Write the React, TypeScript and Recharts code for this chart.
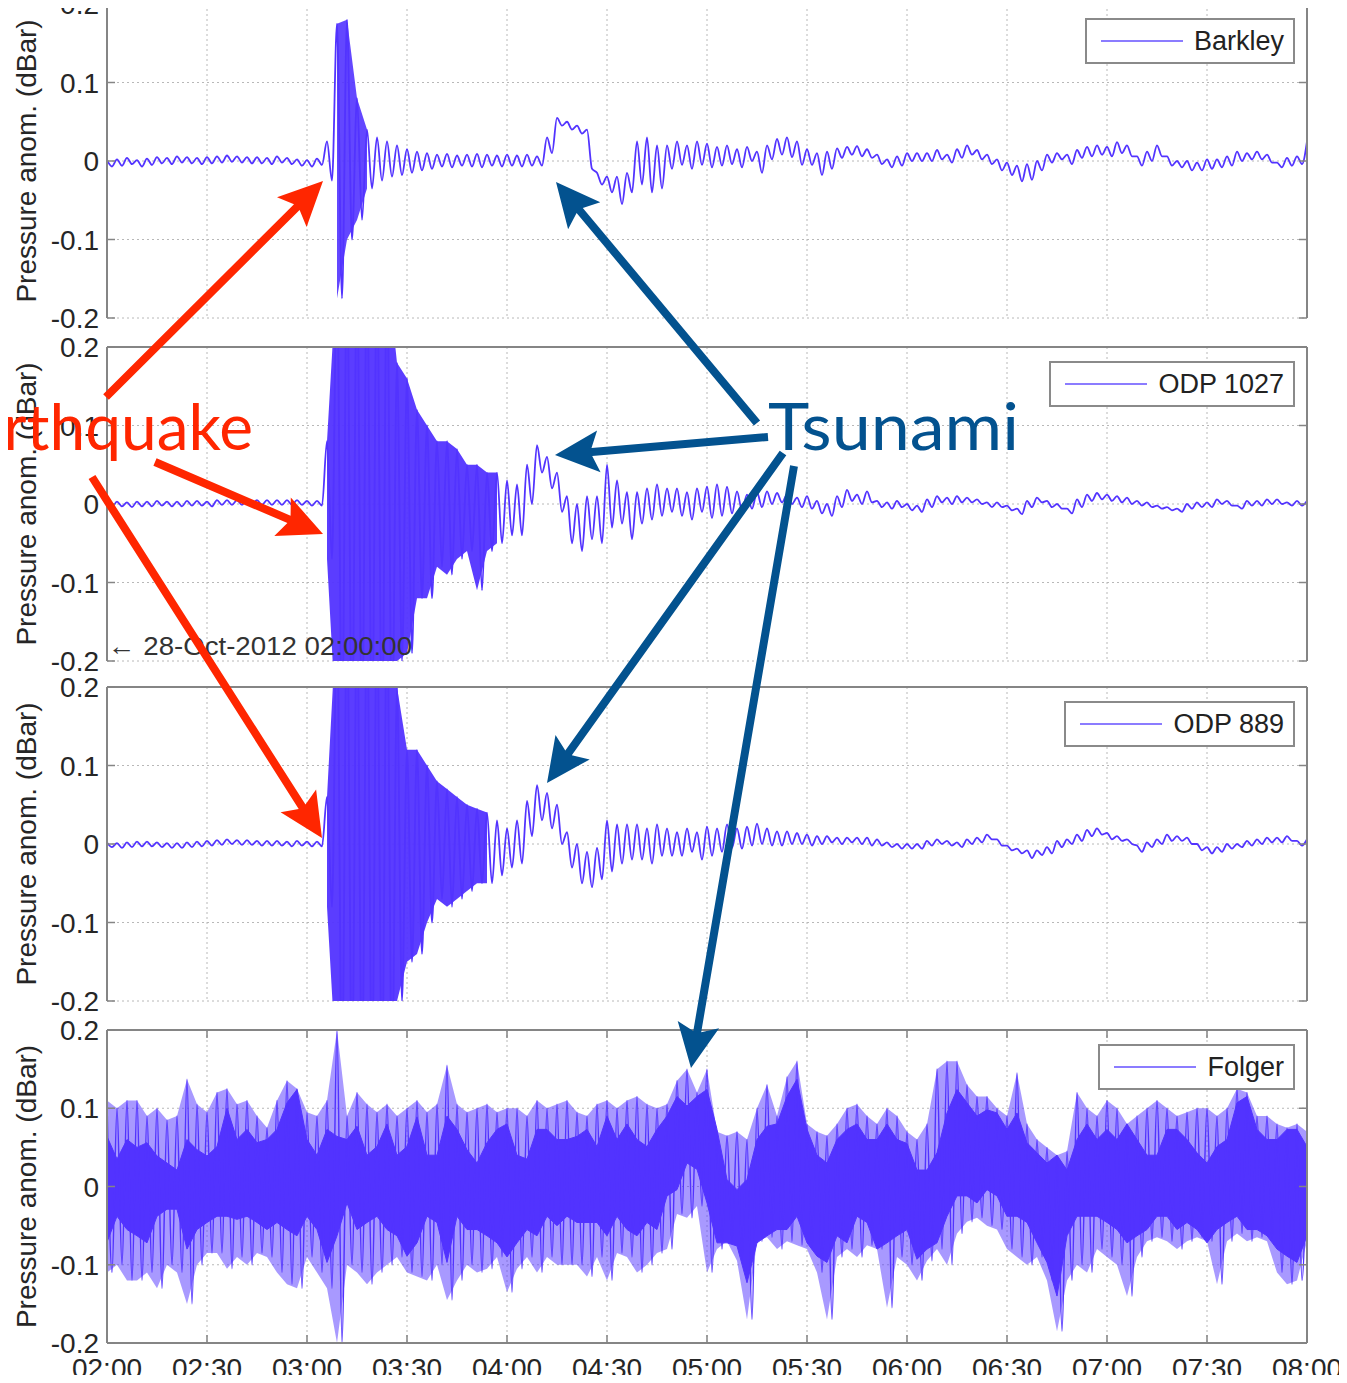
import React from 'react';
import {
  ComposedChart,
  Line,
  Area,
  XAxis,
  YAxis,
  CartesianGrid,
  ReferenceLine,
  Legend,
} from 'recharts';

// ---- axis ticks ----
const timeTicks = [0, 30, 60, 90, 120, 150, 180, 210, 240, 270, 300, 330, 360];
const timeLabels = ['02:00', '02:30', '03:00', '03:30', '04:00', '04:30', '05:00', '05:30', '06:00', '06:30', '07:00', '07:30', '08:00'];
const pressureTicks = [-0.2, -0.1, 0, 0.1, 0.2];
const pressureLabels = ['-0.2', '-0.1', '0', '0.1', '0.2'];
const stationNames = ['Barkley', 'ODP 1027', 'ODP 889', 'Folger'];

// one sample every 3 min from 02:00 to 08:00, local max / min, in 0.01 dBar
const SAMPLE_MIN = 3;

const barkleyHi = [
  0.1, 0.2, 0.4, 0.1, 0.3, 0.5, 0.4, 0.6, 0.5, 0.4, 0.5, 0.6, 0.7, 0.6, 0.5, 0.5, 0.4, 0.6, 0.4, 0.2, 0.1, 0.3,
  2.5, 17.5, 18, 8, 4, 3, 2.5, 2, 1.5, 1.2, 1.0,
  0.8, 0.9, 0.7, 0.8, 0.9, 0.8, 0.7, 0.8, 0.7, 0.8,
  0.6, 3, 5.5, 5, 4.5, 4, -1.5, -2, -2, -1.5, 2.5, 3, 2, 2, 2.5, 2, 2.5,
  2.2, 1.8, 2.0, 1.5, 1.8, 1.2, 2.0, 2.8, 3.0, 2.5,
  1.5, 1.0, 1.2, 1.6, 1.8, 1.9, 1.5, 0.8, 0.2, 0.6,
  1.0, 1.0, 1.0, 1.4, 0.8, 1.5, 2.0, 1.4, 0.8, 0.2,
  -0.2, -0.6, -0.4, 0.0, 0.8, 1.0, 0.8, 1.4, 1.8, 2.0,
  1.8, 2.4, 2.0, 0.6, 1.2, 2.0, 0.6, 0, 0, -0.2,
  0.2, 0.2, 0.6, 1.2, 1.0, 1.2, 0.8, -0.2, 0.4, 0.6,
  2.5,
];
const barkleyLo = [
  -0.7, -0.6, -0.4, -0.7, -0.5, -0.3, -0.4, -0.2, -0.3, -0.4, -0.3, -0.2, -0.1, -0.2, -0.3, -0.3, -0.4, -0.2, -0.4, -0.6, -0.7, -0.5,
  -2.5, -17.5, -10, -7.5, -3.5, -2.5, -2, -1.8, -1.5, -1.2, -1.0,
  -0.7, -0.8, -0.6, -0.7, -0.8, -0.6, -0.7, -0.6, -0.7, -0.6,
  -0.6, 1, 4.5, 4, 3.5, -1, -3, -4, -5.5, -4, -3, -4, -3.5, -1, -0.5, -1, -0.5,
  -0.8, -0.6, -0.4, -0.8, 0, -1.5, 0.2, 0.8, 0.5, -0.5,
  -0.5, -1.8, -1.0, 0.4, 0.8, 0.6, 0.4, -0.4, -0.8, -0.6,
  0, 0, 0, 0.2, -0.2, 0.4, 0.8, 0.2, -0.4, -1.2,
  -1.8, -2.6, -2.4, -1.2, -0.2, 0.2, -0.4, 0.4, 0.6, 0.8,
  0.6, 1.0, 0.6, -0.6, 0, 0.6, -0.6, -0.8, -1.2, -1.2,
  -1.0, -0.8, -0.6, 0, 0.2, 0.2, -0.2, -0.8, -0.6, -0.4,
  0.5,
];

const odp1027Hi = [
  0.2, 0.3, 0.2, 0.3, 0.3, 0.4, 0.3, 0.3, 0.4, 0.4, 0.3, 0.5, 0.5, 0.5, 0.6, 0.5, 0.5, 0.5, 0.5, 0.5, 0.4, 0.4,
  8, 30, 30, 30, 30, 30, 30, 18, 16, 12, 10, 8, 8, 7, 5, 5, 4, 4, 3, 2.5,
  5, 7.5, 6, 4, 1, 0, 1, 1, 5, 3, 1.5, 1.5, 2, 2.5, 2, 2, 1.5, 2,
  2.2, 2.5, 2.2, 1.6, 1.2, 1.5, 1.6, 1.4, 1.2, 0.8,
  1.0, 0.4, 0, 1.0, 1.8, 1.2, 1.6, 0.4, 0.2, 0.4,
  0, -0.2, 0.6, 1.0, 0.8, 1.0, 0.8, 0.6, 0.2, 0.2,
  -0.2, -0.6, 0.4, 0.8, 0.4, 0, -0.6, 0.6, 1.2, 1.4,
  1.2, 1.0, 0.8, 0.4, 0.2, -0.2, -0.4, -0.6, 0, 0.2,
  0.2, 0.6, 0.4, -0.2, 0.4, 0.4, 0.6, 0.6, 0.2, 0.4,
  0.4,
];
const odp1027Lo = [
  -0.4, -0.3, -0.4, -0.3, -0.3, -0.2, -0.3, -0.3, -0.2, -0.2, -0.3, -0.1, -0.1, -0.1, 0, -0.1, -0.1, -0.1, -0.1, -0.1, -0.2, -0.2,
  -7, -30, -30, -30, -30, -30, -30, -20, -19, -12, -12, -8, -9, -7, -6, -11, -6, -5, -4, -4,
  0, 4, 2, -1, -5, -6, -4.5, -5, -3, -2.5, -4.5, -2.5, -2, -1.5, -1, -1.5, -2, -1,
  -1.8, -1.5, -1.2, -0.8, -0.6, -0.4, 0, 0.2, 0, -0.4,
  -0.6, -1.2, -1.5, -0.4, 0.4, 0, 0.2, -0.4, -0.6, -0.4,
  -0.8, -1.0, -0.4, 0.2, 0, 0.2, 0.2, 0, -0.4, -0.4,
  -0.8, -1.3, -0.4, 0.2, -0.4, -0.6, -1.2, -0.4, 0.4, 0.6,
  0.4, 0.2, 0, -0.2, -0.4, -0.6, -0.8, -1.0, -0.6, -0.4,
  -0.4, 0, -0.2, -0.6, -0.2, -0.2, 0, 0, -0.2, -0.2,
  -0.2,
];

const odp889Hi = [
  0.2, 0.1, 0.2, 0.3, 0.3, 0.2, 0.1, 0.1, 0.2, 0.3, 0.4, 0.5, 0.6, 0.5, 0.5, 0.4, 0.4, 0.4, 0.3, 0.4, 0.3, 0.3,
  6, 30, 30, 30, 30, 30, 30, 20, 12, 12, 10, 8, 7, 6, 5, 4.5, 4, 3, 2, 3,
  5.5, 7.5, 6.5, 5, 1.5, 0, -1, -0.5, 3, 2.5, 2.5, 2.5, 2, 2.5, 2, 1.5, 2, 1.5,
  2.2, 2.0, 2.5, 2.0, 2.2, 2.6, 2.0, 1.6, 1.6, 1.4,
  1.2, 1.0, 1.0, 0.8, 0.8, 0.8, 0.8, 0.6, 0.2, 0,
  0, 0, 0.4, 0.6, 0.4, 0.2, 0.6, 0.8, 1.2, 0.6,
  -0.2, -0.6, -0.8, -0.8, -0.4, 0.4, 0.6, 1.2, 1.8, 2.0,
  1.4, 1.0, 0.6, -0.2, 0.2, 0.6, 1.2, 1.0, 0.8, 0,
  -0.4, -0.4, 0, 0, 0.4, 0.6, 0.8, 0.8, 1.0, 0.4,
  0.6,
];
const odp889Lo = [
  -0.4, -0.5, -0.4, -0.3, -0.3, -0.4, -0.5, -0.5, -0.4, -0.3, -0.2, -0.1, 0, -0.1, -0.1, -0.2, -0.2, -0.2, -0.3, -0.2, -0.3, -0.3,
  -8, -30, -30, -30, -30, -30, -30, -20, -15, -14, -10, -7, -8, -7, -6, -5, -5, -4, -3, -2.5,
  1, 3, 2, 0, -3, -5, -5.5, -4.5, -3.5, -2.5, -2, -2, -2.5, -1.5, -1.5, -1.5, -1, -2,
  -1.5, -1.0, -0.5, -0.6, -0.2, 0, -0.2, -0.2, 0, 0,
  -0.2, 0, 0.2, 0, 0.2, 0, -0.2, -0.2, -0.4, -0.6,
  -0.6, -0.6, -0.2, 0, -0.2, -0.4, 0, 0.2, 0.6, -0.2,
  -0.8, -1.2, -1.8, -1.4, -1.2, -0.4, 0, 0.4, 1.0, 1.2,
  0.6, 0.4, 0, -1.0, -0.4, 0, 0.4, 0.4, 0, -0.8,
  -1.2, -1.0, -0.6, -0.4, -0.2, 0, 0.2, 0.2, 0.4, -0.2,
  0,
];

const folgerHi = [
  11, 10, 11, 11, 9, 10, 8.5, 9, 13.7, 10.5,
  9.5, 12, 12.5, 10.5, 11, 9, 7.5, 11, 13.5, 12.5,
  9.5, 9, 11, 20, 9, 12, 10.5, 9.5, 10.5, 9,
  10, 11, 9.5, 10.5, 15.5, 10.5, 9.5, 10, 10.5, 9.5,
  10, 10, 9, 11, 10, 10.5, 11, 9.5, 9, 10.5,
  11, 10, 11, 11.5, 10.5, 10, 10.5, 13.5, 15, 12,
  15, 7, 6.5, 7, 6, 10, 13, 9, 14, 16,
  8, 7, 6.5, 8, 10, 10.5, 9, 8, 10, 9,
  7, 6, 8, 15, 16, 16, 13, 11.5, 11.5, 10,
  9, 14.5, 8, 6, 5, 4, 4.5, 12, 10, 9,
  11, 10, 8, 9, 10, 11, 10, 9, 9.5, 10,
  10, 9, 10, 12.5, 12, 9, 9, 8, 7.5, 8,
  7,
];
const folgerLo = [
  -11, -10, -12, -12, -11, -13, -10, -11, -15, -10,
  -8.5, -8.5, -10.5, -9, -10, -8.5, -9, -11, -12.5, -13,
  -9, -11, -13, -20, -10, -11, -12.5, -11, -10, -9,
  -11, -11.5, -12, -10, -14.5, -12, -10, -11, -10.5, -9,
  -13.5, -10.5, -9, -11, -9, -10, -10, -10, -11.5, -9,
  -12, -8.5, -9, -11, -10, -8.5, -8, -3.5, -4, -2.5,
  -11, -8, -7, -9.5, -17, -7, -6.5, -8, -7, -7.5,
  -8, -11, -17, -9, -8, -9, -7.5, -8, -15.5, -9,
  -10, -12, -9.5, -8, -10, -6, -4.5, -4, -5, -5.5,
  -8, -9, -10, -9, -12, -18.5, -12, -10, -11, -8,
  -9, -10, -14, -9, -7, -6.5, -7, -8, -7, -6.5,
  -7, -12.5, -7, -6, -7, -6.5, -7, -11, -12.5, -12,
  -7,
];
// the solidly filled core of the Folger noise band
const folgerCoreHi = [
  6.4, 3.5, 6, 5, 5.6, 3.9, 3, 2.1, 6, 4.7,
  3.9, 5.1, 10, 6, 7.3, 5.6, 6, 7.3, 10.7, 12.4,
  6, 4, 7.3, 6.4, 6, 7.7, 4, 5.1, 8, 4,
  5.1, 8.9, 4, 4, 9, 7.3, 4.7, 3, 5.6, 7.3,
  8, 4, 3.5, 7.3, 7.3, 6, 6, 6.4, 7.3, 5.1,
  9, 6, 8, 6, 5.1, 7.3, 9, 11.5, 10.3, 11.5,
  12.4, 7.3, 0.9, -0.4, 0.9, 6, 7.7, 8, 11.5, 13.7,
  7.3, 4, 3, 6, 7.3, 8, 6, 6, 8, 6,
  5.5, 2.1, 2.1, 4.3, 9.4, 12.4, 10.7, 9, 9.8, 9.4,
  7.3, 9.4, 5.6, 4.3, 3, 4, 2.1, 6, 8, 6,
  7.3, 6, 8, 6, 4, 4, 7.3, 7.3, 6, 4.3,
  3, 5.1, 6, 10.7, 11.5, 7.3, 6, 6, 7.3, 7.3,
  5.1,
];
const folgerCoreLo = [
  -7.1, -3.8, -5.5, -6.3, -7.2, -3.8, -2.9, -2.9, -8, -5.5,
  -4.6, -3.8, -3.8, -4.2, -3.8, -4.6, -5.5, -4.6, -5.5, -6.3,
  -3.8, -5.5, -9.7, -6.3, -2.1, -5.5, -4.6, -3.8, -5.5, -6.3,
  -8.9, -7.2, -3.8, -4.6, -9.7, -3.8, -5.5, -5.5, -6.3, -7.2,
  -9, -7.2, -5.5, -6.3, -3.8, -5, -3.8, -4.6, -4.6, -4.6,
  -6.3, -3.8, -5.5, -6.3, -4.6, -5.5, -1.2, -0.4, 3, 2.2,
  -2.1, -7.2, -7.2, -7.6, -12.3, -7.2, -6.3, -5.5, -5.5, -3.8,
  -7.2, -8.9, -9.7, -6.3, -7.2, -3.8, -4.6, -8, -7.2, -6.3,
  -5.5, -9.3, -8, -7.2, -3.8, -1.2, -1.2, -2.1, -0.4, -1.2,
  -3.8, -3.8, -4.6, -7.2, -9.7, -14, -6.3, -3.8, -3.8, -3.8,
  -4.6, -5.5, -7.2, -6.3, -5.5, -3.8, -3.8, -5.5, -4.6, -5.5,
  -7.2, -5.5, -4.6, -3.8, -5.5, -5.5, -6.3, -8, -8.9, -9.7,
  -6.3,
];

// envelope rows, one per sample (null where the trace is just a thin line)
function buildBand(hi: number[], lo: number[], minSpread: number) {
  return hi.map((h, i) => ({
    t: i * SAMPLE_MIN,
    band: h - lo[i] > minSpread ? [lo[i] / 100, h / 100] : null,
  }));
}

// trace zig-zags between the local max and min of each sample
function buildTrace(hi: number[], lo: number[]) {
  const rows: { t: number; v: number }[] = [];
  hi.forEach((h, i) => {
    rows.push({ t: i * SAMPLE_MIN, v: h / 100 });
    if (i < hi.length - 1) rows.push({ t: i * SAMPLE_MIN + SAMPLE_MIN / 2, v: lo[i] / 100 });
  });
  return rows;
}

const TRACE = '#5233ff';
const FRAME = '#858585';
const FONT = '"Liberation Sans", Arial, sans-serif';
const PLOT_LEFT = 107;
const PLOT_RIGHT = 1307;
const W = 1347;
const PAD = 22;

const panels = [
  { name: stationNames[0], hi: barkleyHi, lo: barkleyLo, plotTop: 4, plotH: 314, axisH: 0, fill: 0.9 },
  { name: stationNames[1], hi: odp1027Hi, lo: odp1027Lo, plotTop: 347, plotH: 314, axisH: 0, fill: 0.95 },
  { name: stationNames[2], hi: odp889Hi, lo: odp889Lo, plotTop: 687, plotH: 314, axisH: 0, fill: 0.95 },
  {
    name: stationNames[3],
    hi: folgerHi,
    lo: folgerLo,
    coreHi: folgerCoreHi,
    coreLo: folgerCoreLo,
    plotTop: 1030,
    plotH: 313,
    axisH: 40,
    fill: 0.5,
  },
];

function LegendBox(props: any) {
  const item = (props.payload || []).find((p: any) => p.type !== 'none');
  if (!item) return null;
  return (
    <div
      style={{
        display: 'flex',
        alignItems: 'center',
        height: 42,
        padding: '0 9px 0 14px',
        border: '2px solid #8a8a8a',
        background: '#fff',
        fontFamily: FONT,
      }}
    >
      <span style={{ display: 'inline-block', width: 82, borderTop: '2px solid #8b7cff', marginRight: 11 }} />
      <span style={{ fontSize: 27, color: '#222', lineHeight: '42px' }}>{item.value}</span>
    </div>
  );
}

function Panel({ p, showTime }: { p: any; showTime: boolean }) {
  const band = buildBand(p.hi, p.lo, 7);
  const core = p.coreHi ? buildBand(p.coreHi, p.coreLo, -100) : null;
  const trace = buildTrace(p.hi, p.lo);
  const plotTop = PAD;
  const plotBottom = PAD + p.plotH;
  const bottomSpace = Math.max(p.axisH, PAD);
  const height = PAD + p.plotH + bottomSpace;

  const xTick = (props: any) => {
    const { x, payload } = props;
    const idx = timeTicks.indexOf(payload.value);
    return (
      <g>
        <line x1={x} x2={x} y1={plotBottom} y2={plotBottom - 8} stroke={FRAME} strokeWidth={1.5} />
        <line x1={x} x2={x} y1={plotTop} y2={plotTop + 8} stroke={FRAME} strokeWidth={1.5} />
        {showTime && (
          <text x={x} y={plotBottom + 35} textAnchor="middle" fontFamily={FONT} fontSize={28} fill="#262626">
            {timeLabels[idx]}
          </text>
        )}
      </g>
    );
  };

  const yTick = (props: any) => {
    const { y, payload } = props;
    const idx = pressureTicks.indexOf(payload.value);
    return (
      <g>
        <line x1={PLOT_LEFT} x2={PLOT_LEFT + 8} y1={y} y2={y} stroke={FRAME} strokeWidth={1.5} />
        <line x1={PLOT_RIGHT} x2={PLOT_RIGHT - 8} y1={y} y2={y} stroke={FRAME} strokeWidth={1.5} />
        <text x={99} y={y + 10} textAnchor="end" fontFamily={FONT} fontSize={28} fill="#262626">
          {pressureLabels[idx]}
        </text>
      </g>
    );
  };

  const yLabel = () => {
    const cx = 36;
    const cy = (plotTop + plotBottom) / 2;
    return (
      <text
        x={cx}
        y={cy}
        transform={`rotate(-90 ${cx} ${cy})`}
        textAnchor="middle"
        fontFamily={FONT}
        fontSize={28}
        fill="#262626"
      >
        Pressure anom. (dBar)
      </text>
    );
  };

  return (
    <div style={{ position: 'absolute', left: 0, top: p.plotTop - PAD }}>
      <ComposedChart
        width={W}
        height={height}
        margin={{ top: PAD, right: W - PLOT_RIGHT, bottom: bottomSpace - p.axisH, left: 0 }}
      >
        <CartesianGrid stroke="#b8b8b8" strokeDasharray="2 3" />
        <XAxis
          type="number"
          dataKey="t"
          domain={[0, 360]}
          ticks={timeTicks}
          interval={0}
          height={p.axisH}
          allowDataOverflow
          tickLine={false}
          axisLine={{ stroke: FRAME, strokeWidth: 2 }}
          tick={xTick}
        />
        <YAxis
          type="number"
          domain={[-0.2, 0.2]}
          ticks={pressureTicks}
          interval={0}
          width={PLOT_LEFT}
          allowDataOverflow
          tickLine={false}
          axisLine={{ stroke: FRAME, strokeWidth: 2 }}
          tick={yTick}
          label={yLabel}
        />
        <Area
          data={band}
          type="linear"
          dataKey="band"
          stroke="none"
          fill={TRACE}
          fillOpacity={p.fill}
          legendType="none"
          isAnimationActive={false}
        />
        <Line
          data={trace}
          type="monotone"
          dataKey="v"
          name={p.name}
          stroke={TRACE}
          strokeWidth={core ? 1.5 : 1.8}
          dot={false}
          activeDot={false}
          isAnimationActive={false}
        />
        {core && (
          <Area
            data={core}
            type="linear"
            dataKey="band"
            stroke={TRACE}
            strokeWidth={1}
            fill={TRACE}
            fillOpacity={1}
            legendType="none"
            isAnimationActive={false}
          />
        )}
        <ReferenceLine y={0.2} stroke={FRAME} strokeWidth={2} />
        <ReferenceLine x={360} stroke={FRAME} strokeWidth={2} />
        <Legend
          layout="vertical"
          align="center"
          verticalAlign="middle"
          wrapperStyle={{ top: plotTop + 14, right: W - 1295, left: 'auto', width: 'auto' }}
          content={LegendBox}
        />
      </ComposedChart>
    </div>
  );
}

// ---- annotation arrows (page pixels) ----
type Pt = [number, number];
const redArrows: { from: Pt; to: Pt }[] = [
  { from: [106, 397], to: [323, 181] },
  { from: [155, 462], to: [323, 534] },
  { from: [92, 477], to: [322, 838] },
];
const blueArrows: { from: Pt; to: Pt }[] = [
  { from: [757, 423], to: [556, 182] },
  { from: [768, 437], to: [555, 455] },
  { from: [783, 453], to: [547, 783] },
  { from: [794, 466], to: [691, 1068] },
];

function arrowPoints(from: Pt, tip: Pt, shaft = 8, head = 44, half = 21, notch = 7) {
  const dx = tip[0] - from[0];
  const dy = tip[1] - from[1];
  const len = Math.hypot(dx, dy);
  const ux = dx / len;
  const uy = dy / len;
  const nx = -uy;
  const ny = ux;
  const bx = tip[0] - ux * head;
  const by = tip[1] - uy * head;
  const jx = bx + ux * notch;
  const jy = by + uy * notch;
  const s = shaft / 2;
  const pts = [
    [from[0] + nx * s, from[1] + ny * s],
    [jx + nx * s, jy + ny * s],
    [bx + nx * half, by + ny * half],
    [tip[0], tip[1]],
    [bx - nx * half, by - ny * half],
    [jx - nx * s, jy - ny * s],
    [from[0] - nx * s, from[1] - ny * s],
  ];
  return pts.map((q) => `${q[0].toFixed(1)},${q[1].toFixed(1)}`).join(' ');
}

export default function App() {
  return (
    <div
      style={{
        position: 'relative',
        width: W,
        height: 1383,
        margin: -8,
        background: '#fff',
        overflow: 'hidden',
      }}
    >
      {panels.map((p, i) => (
        <Panel key={p.name} p={p} showTime={i === panels.length - 1} />
      ))}
      <svg
        width={W}
        height={1383}
        style={{ position: 'absolute', left: 0, top: 0, pointerEvents: 'none' }}
      >
        <text x={108} y={655} fontFamily={FONT} fontSize={26} fill="#333" textLength={304} lengthAdjust="spacingAndGlyphs">
          ← 28-Oct-2012 02:00:00
        </text>
        {redArrows.map((a, i) => (
          <polygon key={`r${i}`} points={arrowPoints(a.from, a.to)} fill="#ff2600" />
        ))}
        {blueArrows.map((a, i) => (
          <polygon key={`b${i}`} points={arrowPoints(a.from, a.to)} fill="#03528f" />
        ))}
        <text x={253} y={450} textAnchor="end" fontFamily="Lato, 'Open Sans', sans-serif" fontSize={64} fill="#ff2600">
          Earthquake
        </text>
        <text
          x={768}
          y={450}
          fontFamily="Lato, 'Open Sans', sans-serif"
          fontSize={66}
          fill="#03528f"
          textLength={251}
          lengthAdjust="spacingAndGlyphs"
        >
          Tsunami
        </text>
      </svg>
    </div>
  );
}
